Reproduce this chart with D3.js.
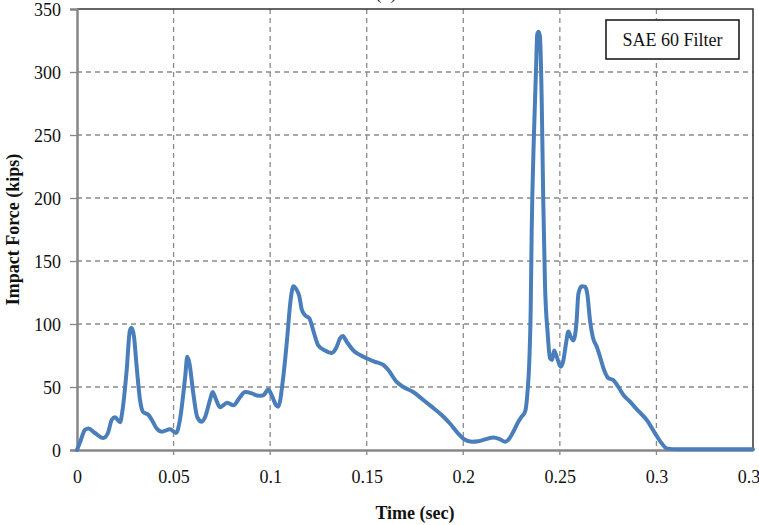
<!DOCTYPE html>
<html lang="en">
<head>
    <meta charset="UTF-8">
    <title>Impact Force - SAE 60 Filter</title>
    <script src="https://cdn.jsdelivr.net/npm/d3@7"></script>
    <style>
        body { margin: 0; background: #fff; }
        text { font-family: "Liberation Serif", "Times New Roman", serif; }
    </style>
</head>
<body>
<div id="chart"></div>
<script>
    // time (sec) and impact force (kips)
    const timeSec = [
        0, 0.002, 0.0041, 0.0059, 0.0093, 0.0136, 0.016, 0.018, 0.0197, 0.0223,
        0.0236, 0.0257, 0.0274, 0.0283, 0.0295, 0.0309, 0.0326, 0.0343, 0.0369, 0.0387,
        0.0413, 0.0438, 0.0482, 0.0513, 0.0533, 0.056, 0.0571, 0.0582, 0.0602, 0.0623,
        0.0646, 0.0663, 0.0689, 0.0702, 0.072, 0.074, 0.0778, 0.081, 0.0844, 0.087,
        0.0905, 0.0939, 0.0965, 0.099, 0.1008, 0.103, 0.1042, 0.1068, 0.1086, 0.1106,
        0.112, 0.1134, 0.1151, 0.1163, 0.118, 0.1203, 0.1223, 0.1249, 0.1284, 0.1319,
        0.1341, 0.1362, 0.1376, 0.1396, 0.1431, 0.1465, 0.15, 0.1543, 0.1586, 0.1612,
        0.1655, 0.169, 0.1741, 0.1793, 0.1836, 0.1888, 0.1931, 0.1974, 0.2004, 0.2044,
        0.2078, 0.2156, 0.219, 0.2216, 0.2233, 0.2259, 0.2285, 0.2302, 0.232, 0.2332,
        0.2342, 0.2349, 0.2354, 0.2366, 0.2377, 0.2383, 0.239, 0.2397, 0.2406, 0.2414,
        0.2423, 0.2437, 0.2449, 0.246, 0.247, 0.2484, 0.2504, 0.2518, 0.2532, 0.2544,
        0.2556, 0.257, 0.2587, 0.2596, 0.2613, 0.263, 0.2642, 0.2656, 0.267, 0.2691,
        0.2708, 0.2729, 0.2751, 0.2777, 0.2803, 0.2829, 0.2863, 0.2906, 0.295, 0.2993,
        0.3027, 0.3053, 0.3105, 0.35
    ];
    const forceKips = [
        0, 8, 16, 17, 13.5, 9.5, 13.5, 24, 26, 22,
        32, 63, 95, 97, 90, 66, 40, 30, 28, 24,
        17, 14.5, 16.5, 13.5, 24, 58, 74, 69, 45, 26,
        22.5, 26, 40, 46, 40, 34, 37.5, 35.5, 42, 46,
        45, 43, 43.5, 48, 43.5, 35.7, 34.4, 58, 85, 119,
        130, 128, 122, 112, 107, 104.5, 95, 83, 79, 77,
        80.7, 88.6, 90.5, 86, 79, 75.4, 72.8, 70, 67.5, 63.5,
        54, 50, 46, 39.7, 34.4, 27.8, 21, 13, 8.5, 6.6,
        7, 10, 8.5, 6.6, 8, 14.5, 22.5, 26.4, 30.4, 45,
        71, 111, 172, 251, 304, 330, 332, 328, 278, 198,
        132, 92.6, 72.8, 71.4, 79, 74, 66, 71, 84.7, 94,
        90, 87, 103, 124, 130, 129.6, 124, 103, 90, 82,
        74, 63.5, 57, 55.5, 50, 43.7, 38.3, 31, 23.8, 13.2,
        5.3, 1.3, 0.5, 0.5
    ];
    const xTicks = [0, 0.05, 0.1, 0.15, 0.2, 0.25, 0.3, 0.35];
    const xTickLabels = ['0', '0.05', '0.1', '0.15', '0.2', '0.25', '0.3', '0.35'];
    const yTicks = [0, 50, 100, 150, 200, 250, 300, 350];

    const width = 759, height = 525;
    const margin = {top: 9, right: 6, bottom: 75, left: 77};
    const plotW = width - margin.left - margin.right,
        plotH = height - margin.top - margin.bottom;

    const svg = d3.select('#chart').append('svg')
        .attr('width', width)
        .attr('height', height);

    const x = d3.scaleLinear().domain([0, 0.35]).range([0, plotW]);
    const y = d3.scaleLinear().domain([0, 350]).range([plotH, 0]);

    const g = svg.append('g')
        .attr('transform', `translate(${margin.left},${margin.top})`);

    // dashed grid
    g.append('g').selectAll('line')
        .data(yTicks.filter(d => d > 0 && d < 350))
        .join('line')
        .attr('x1', 0).attr('x2', plotW)
        .attr('y1', d => y(d)).attr('y2', d => y(d))
        .attr('stroke', '#8a8a8a').attr('stroke-width', 1.3)
        .attr('stroke-dasharray', '5,4');
    g.append('g').selectAll('line')
        .data(xTicks.filter(d => d > 0 && d < 0.35))
        .join('line')
        .attr('x1', d => x(d)).attr('x2', d => x(d))
        .attr('y1', 0).attr('y2', plotH + 6)
        .attr('stroke', '#8a8a8a').attr('stroke-width', 1.3)
        .attr('stroke-dasharray', '5,4');

    // top and right frame
    g.append('path')
        .attr('d', `M0,0H${plotW}V${plotH}`)
        .attr('fill', 'none')
        .attr('stroke', '#333').attr('stroke-width', 1.5);

    // axes
    const xAxis = g.append('g')
        .attr('transform', `translate(0,${plotH})`)
        .call(d3.axisBottom(x).tickValues(xTicks)
            .tickFormat((d, i) => xTickLabels[i]).tickSize(0).tickPadding(20));
    const yAxis = g.append('g')
        .call(d3.axisLeft(y).tickValues(yTicks).tickSize(7).tickPadding(9));

    [xAxis, yAxis].forEach(a => {
        a.select('.domain').attr('stroke', '#878787').attr('stroke-width', 2.5);
        a.selectAll('.tick line').attr('stroke', '#878787').attr('stroke-width', 1.3);
        a.selectAll('.tick text')
            .attr('font-family', '"Liberation Serif", serif')
            .attr('font-size', 18).attr('fill', '#111');
    });
    yAxis.selectAll('.tick text').attr('dy', '0.34em');

    // data line
    const line = d3.line()
        .x((d, i) => x(timeSec[i]))
        .y(d => y(d))
        .curve(d3.curveMonotoneX);

    g.append('path')
        .datum(forceKips)
        .attr('fill', 'none')
        .attr('stroke', '#4a7ebb')
        .attr('stroke-width', 4)
        .attr('stroke-linejoin', 'round')
        .attr('stroke-linecap', 'round')
        .attr('d', line);

    // legend box
    const legend = svg.append('g').attr('transform', 'translate(606,20)');
    legend.append('rect')
        .attr('width', 133).attr('height', 39)
        .attr('fill', '#fff')
        .attr('stroke', '#111').attr('stroke-width', 1.5);
    legend.append('text')
        .attr('x', 66.5).attr('y', 26)
        .attr('text-anchor', 'middle')
        .attr('font-size', 18).attr('fill', '#111')
        .text('SAE 60 Filter');

    // cut-off title fragment at the top
    svg.append('text')
        .attr('x', 386).attr('y', -1)
        .attr('text-anchor', 'middle')
        .attr('font-size', 18).attr('fill', '#111')
        .text('(b)');

    // axis titles
    svg.append('text')
        .attr('x', 415).attr('y', 519)
        .attr('text-anchor', 'middle')
        .attr('font-size', 18).attr('font-weight', 'bold').attr('fill', '#111')
        .text('Time (sec)');

    svg.append('text')
        .attr('transform', `translate(19,${margin.top + plotH / 2}) rotate(-90)`)
        .attr('text-anchor', 'middle')
        .attr('font-size', 18).attr('font-weight', 'bold').attr('fill', '#111')
        .text('Impact Force (kips)');
</script>
</body>
</html>
